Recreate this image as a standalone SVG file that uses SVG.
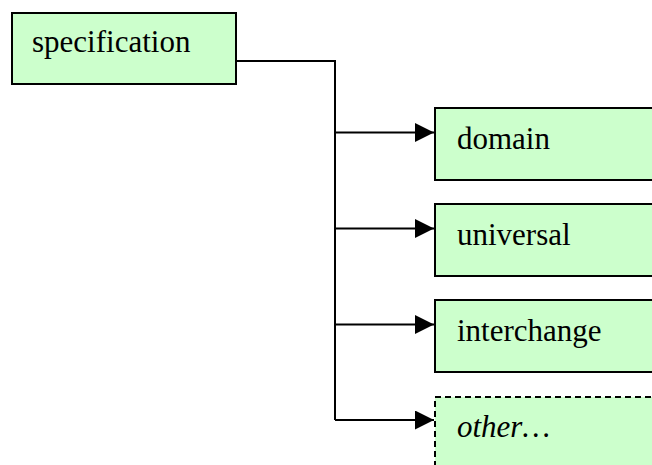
<svg xmlns="http://www.w3.org/2000/svg" width="652" height="465" viewBox="0 0 652 465">
<style>
.box{fill:#CCFFCC;stroke:#000;stroke-width:2}
.dash{stroke-dasharray:6,4}
.lbl{font-size:31px;fill:#000}
.it{font-style:italic}
.ln{fill:none;stroke:#000;stroke-width:2}
</style>
<defs>
<marker id="arr" markerWidth="20" markerHeight="20" refX="19" refY="9.5" orient="auto" markerUnits="userSpaceOnUse">
<path d="M0,0 L19,9.5 L0,19 Z" fill="#000"/>
</marker>
</defs>
<rect x="0" y="0" width="652" height="465" fill="#fff"/>
<g id="connectors">
<polyline class="ln" points="236,61 335,61 335,420"/>
<line class="ln" x1="335" y1="132.5" x2="434" y2="132.5" marker-end="url(#arr)"/>
<line class="ln" x1="335" y1="228.5" x2="434" y2="228.5" marker-end="url(#arr)"/>
<line class="ln" x1="335" y1="324.5" x2="434" y2="324.5" marker-end="url(#arr)"/>
<line class="ln" x1="335" y1="420" x2="434" y2="420" marker-end="url(#arr)"/>
</g>
<g id="specification" font-family="'Liberation Serif', 'DejaVu Serif', serif">
<rect class="box" x="12" y="13" width="224" height="71"/>
<text class="lbl" x="32" y="52">specification</text>
</g>
<g id="domain" font-family="'Liberation Serif', 'DejaVu Serif', serif">
<rect class="box" x="435" y="108" width="230" height="72"/>
<text class="lbl" x="457" y="149">domain</text>
</g>
<g id="universal" font-family="'Liberation Serif', 'DejaVu Serif', serif">
<rect class="box" x="435" y="204" width="230" height="72"/>
<text class="lbl" x="457" y="245">universal</text>
</g>
<g id="interchange" font-family="'Liberation Serif', 'DejaVu Serif', serif">
<rect class="box" x="435" y="300" width="230" height="72"/>
<text class="lbl" x="457" y="341">interchange</text>
</g>
<g id="other" font-family="'Liberation Serif', 'DejaVu Serif', serif">
<rect class="box dash" x="435" y="397" width="230" height="80"/>
<text class="lbl it" x="457" y="437">other…</text>
</g>
</svg>
